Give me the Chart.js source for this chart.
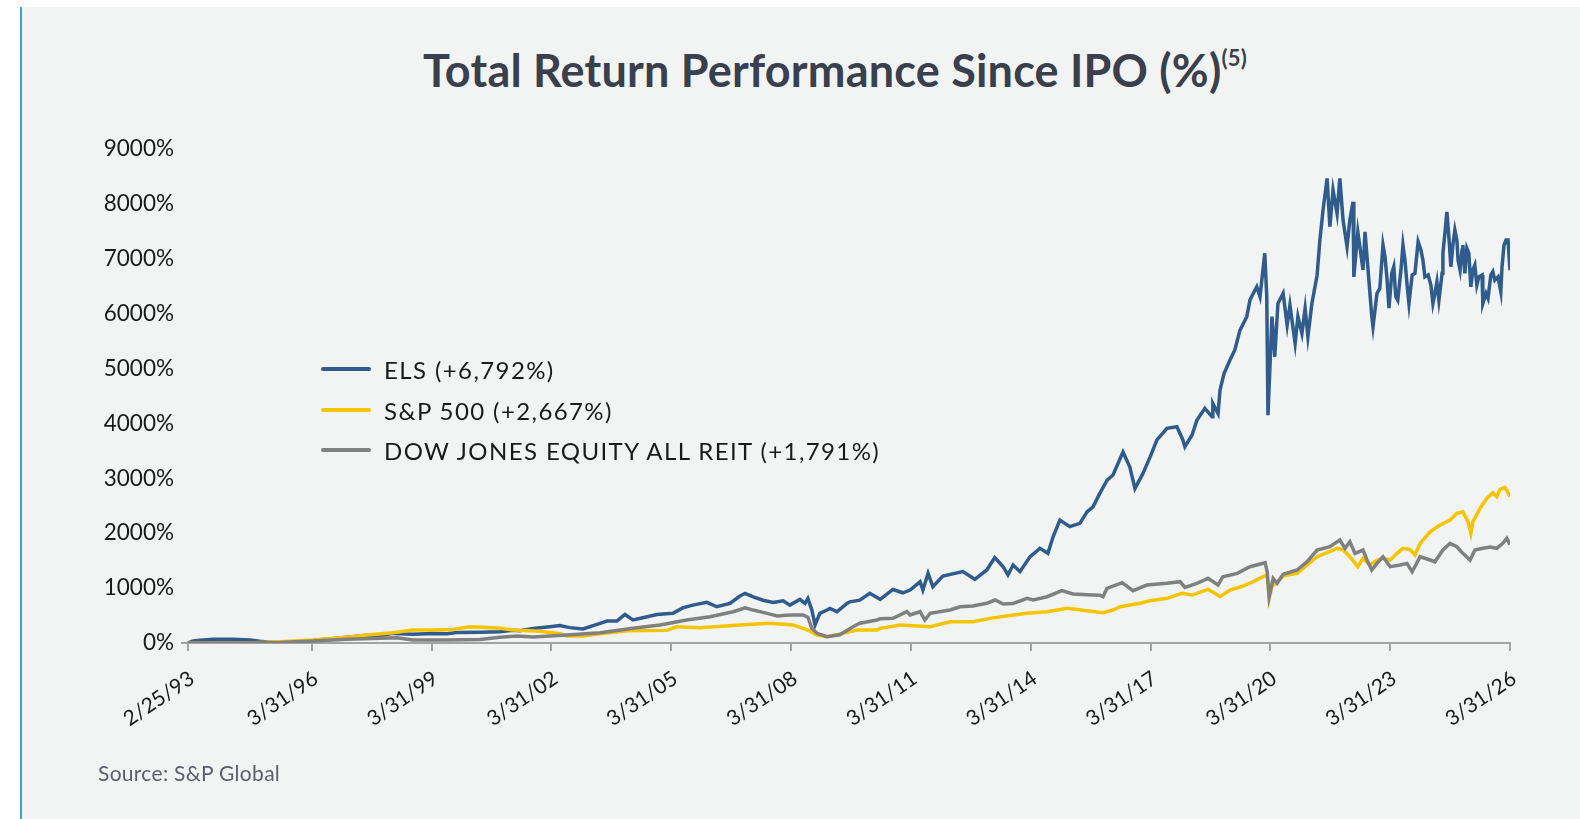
<!DOCTYPE html>
<html>
<head>
<meta charset="utf-8">
<script src="https://cdn.jsdelivr.net/npm/chart.js@4.4.1/dist/chart.umd.min.js"></script>
<style>
  html, body { margin: 0; padding: 0; }
  body { width: 1580px; height: 819px; position: relative; overflow: hidden; background: #ffffff; font-family: Lato, "Open Sans", sans-serif; }
  #panel { position: absolute; left: 20px; top: 7px; right: 0; bottom: 0; background: #f2f4f3; border-left: 2px solid #2aa7e0; }
  #title { position: absolute; left: 0; top: 43px; width: 1670px; text-align: center; font-size: 45px; font-weight: 700; color: #3a3f4e; letter-spacing: 0.2px; }
  #title sup { font-size: 22px; font-weight: 700; vertical-align: 0; position: relative; top: -21px; }
  #chartWrap { position: absolute; left: 0; top: 0; width: 1580px; height: 819px; }
  #source { position: absolute; left: 98px; top: 760px; font-size: 21px; letter-spacing: 0.3px; color: #5a5f6b; }
  .leg { position: absolute; left: 321px; height: 30px; display: flex; align-items: center; font-size: 24px; letter-spacing: 1.4px; color: #1a1a1a; }
  .leg .sw { width: 50px; height: 4px; border-radius: 2px; margin-right: 13px; }
</style>
</head>
<body>
<div id="panel"></div>
<div id="title">Total Return Performance Since IPO (%)<sup>(5)</sup></div>
<div id="chartWrap"><canvas id="c" width="1580" height="819"></canvas></div>
<div id="legend"></div>
<div id="source">Source: S&amp;P Global</div>
<script>
// ---- tick labels (dates) ----
const tickYears = [1993.15, 1996.25, 1999.25, 2002.25, 2005.25, 2008.25, 2011.25, 2014.25, 2017.25, 2020.25, 2023.25, 2026.25];
const tickLabels = ['2/25/93', '3/31/96', '3/31/99', '3/31/02', '3/31/05', '3/31/08', '3/31/11', '3/31/14', '3/31/17', '3/31/20', '3/31/23', '3/31/26'];

// ---- series names ----
const seriesNames = ['ELS (+6,792%)', 'S&P 500 (+2,667%)', 'DOW JONES EQUITY ALL REIT (+1,791%)'];

// ---- ELS (decimal year, total return %) ----
const elsYears = [1993.15,1993.28,1993.45,1993.78,1994.28,1994.70,1994.95,1995.20,1995.70,1996.28,1996.88,1997.63,1997.96,1998.28,1998.78,1999.28,1999.63,1999.88,2000.46,2000.96,2001.29,2001.46,2001.79,2002.21,2002.46,2002.71,2003.04,2003.39,2003.64,2003.89,2004.09,2004.29,2004.54,2004.89,2005.29,2005.54,2005.79,2006.14,2006.39,2006.72,2006.97,2007.10,2007.30,2007.55,2007.80,2008.05,2008.22,2008.47,2008.60,2008.67,2008.77,2008.85,2008.97,2009.15,2009.22,2009.40,2009.65,2009.72,2009.97,2010.22,2010.48,2010.80,2011.05,2011.23,2011.48,2011.55,2011.68,2011.80,2012.05,2012.55,2012.85,2013.15,2013.35,2013.56,2013.68,2013.81,2013.98,2014.23,2014.48,2014.68,2014.81,2014.98,2015.23,2015.48,2015.66,2015.81,2015.98,2016.16,2016.31,2016.56,2016.73,2016.86,2017.06,2017.24,2017.41,2017.66,2017.91,2018.06,2018.11,2018.29,2018.41,2018.61,2018.79,2018.81,2018.94,2018.99,2019.09,2019.24,2019.36,2019.49,2019.66,2019.74,2019.91,2019.99,2020.11,2020.16,2020.19,2020.29,2020.36,2020.44,2020.57,2020.67,2020.74,2020.87,2020.94,2021.04,2021.12,2021.19,2021.29,2021.42,2021.49,2021.57,2021.67,2021.74,2021.82,2021.92,2021.99,2022.07,2022.17,2022.24,2022.32,2022.34,2022.44,2022.57,2022.62,2022.69,2022.79,2022.82,2022.92,2022.99,2023.07,2023.12,2023.17,2023.22,2023.29,2023.34,2023.39,2023.44,2023.52,2023.57,2023.62,2023.67,2023.72,2023.80,2023.87,2023.95,2024.02,2024.07,2024.12,2024.20,2024.27,2024.32,2024.37,2024.42,2024.47,2024.55,2024.57,2024.62,2024.67,2024.72,2024.77,2024.82,2024.87,2024.92,2024.95,2025.00,2025.05,2025.07,2025.12,2025.17,2025.22,2025.27,2025.32,2025.37,2025.42,2025.47,2025.55,2025.57,2025.65,2025.70,2025.77,2025.82,2025.87,2025.95,2026.02,2026.05,2026.10,2026.15,2026.20,2026.25];
const elsValues = [0,36,50,70,70,55,30,15,20,45,85,140,130,175,160,175,170,190,195,205,230,225,265,297,320,280,255,340,400,400,520,420,460,520,540,640,690,740,660,720,855,905,840,780,740,770,690,795,720,810,600,330,540,600,630,570,720,750,780,905,795,975,915,965,1115,965,1270,1025,1220,1300,1160,1330,1555,1390,1240,1420,1300,1570,1725,1635,1935,2240,2120,2180,2390,2480,2725,2965,3060,3480,3210,2815,3090,3390,3700,3910,3940,3700,3575,3790,4060,4275,4120,4365,4180,4610,4910,5155,5340,5700,5945,6250,6490,6310,7100,6310,4150,5945,5215,6185,6370,5790,6155,5460,5945,5640,6095,5580,6185,6700,7340,7890,8465,7585,8250,7825,8465,7705,7220,7705,8040,6670,7490,6795,7490,6855,5945,5760,6370,6460,7250,7040,6640,6100,6735,6855,6310,6245,6795,7250,6975,6550,6185,6705,6735,7310,7160,6975,6670,6705,6520,6185,6370,6580,6245,6735,7100,7465,7855,7400,6855,7250,7525,7340,6975,6795,7160,7250,6735,7190,7100,6490,6795,6885,6520,6670,6705,6185,6370,6280,6705,6765,6610,6670,6400,6855,7250,7340,7340,6792];

// ---- S&P 500 ----
const spYears = [1993.15,1993.78,1994.63,1995.45,1996.28,1997.13,1997.63,1998.28,1998.78,1999.28,1999.79,2000.21,2000.54,2000.96,2001.29,2001.96,2002.46,2002.64,2003.04,2003.47,2004.14,2005.14,2005.39,2005.97,2006.97,2007.72,2008.30,2008.67,2008.90,2009.15,2009.55,2009.90,2010.40,2010.48,2010.98,2011.40,2011.73,2012.23,2012.80,2013.23,2013.81,2014.16,2014.66,2015.16,2015.66,2016.06,2016.31,2016.49,2016.74,2016.99,2017.24,2017.66,2018.04,2018.29,2018.69,2018.86,2018.99,2019.24,2019.57,2019.82,2020.07,2020.17,2020.22,2020.29,2020.42,2020.57,2020.92,2021.17,2021.42,2021.67,2021.92,2022.07,2022.24,2022.44,2022.57,2022.74,2022.92,2023.07,2023.25,2023.42,2023.57,2023.75,2023.87,2024.00,2024.25,2024.50,2024.75,2024.92,2025.07,2025.20,2025.27,2025.32,2025.50,2025.67,2025.82,2025.92,2026.00,2026.12,2026.17,2026.25];
const spValues = [0,0,0,24,55,103,146,188,237,237,245,297,285,267,237,213,170,127,127,170,224,230,297,279,328,358,330,237,146,115,176,237,237,267,328,310,297,388,388,449,510,540,570,631,589,552,600,661,692,723,771,814,905,874,978,905,843,965,1038,1117,1208,1239,814,1026,1117,1220,1269,1421,1572,1645,1725,1700,1572,1390,1542,1421,1512,1542,1512,1633,1725,1700,1603,1816,2027,2149,2240,2362,2392,2209,1998,2209,2453,2635,2738,2665,2799,2836,2780,2667];

// ---- Dow Jones Equity All REIT ----
const djYears = [1993.15,1994.63,1995.45,1996.28,1997.13,1997.96,1998.38,1998.78,1999.63,2000.46,2000.96,2001.39,2001.79,2002.64,2003.47,2004.29,2004.97,2005.64,2006.22,2006.80,2007.10,2007.30,2007.65,2007.90,2008.22,2008.55,2008.67,2008.77,2008.90,2009.15,2009.47,2009.80,2009.97,2010.40,2010.48,2010.80,2011.15,2011.23,2011.48,2011.60,2011.73,2012.23,2012.48,2012.80,2013.15,2013.36,2013.56,2013.81,2014.16,2014.31,2014.66,2015.03,2015.31,2015.66,2015.98,2016.06,2016.16,2016.54,2016.81,2017.16,2017.66,2017.99,2018.11,2018.41,2018.69,2018.94,2019.06,2019.42,2019.74,2020.12,2020.17,2020.22,2020.32,2020.42,2020.57,2020.92,2021.17,2021.42,2021.74,2021.99,2022.12,2022.24,2022.37,2022.57,2022.67,2022.79,2022.92,2023.07,2023.25,2023.50,2023.67,2023.80,2024.00,2024.25,2024.37,2024.57,2024.75,2024.92,2025.07,2025.25,2025.37,2025.57,2025.75,2025.92,2026.07,2026.17,2026.25];
const djValues = [0,0,10,36,67,85,95,55,55,65,103,127,110,146,188,267,328,419,479,570,640,600,540,491,510,510,470,267,176,115,150,297,360,419,440,450,570,510,570,419,540,601,661,674,723,783,710,720,814,783,843,953,892,880,870,843,996,1099,953,1056,1087,1117,1014,1087,1178,1056,1208,1269,1390,1463,1300,843,1178,1087,1251,1330,1481,1694,1754,1876,1725,1845,1633,1694,1512,1330,1451,1572,1390,1421,1450,1299,1572,1512,1480,1694,1816,1754,1633,1512,1694,1725,1750,1725,1816,1907,1791];

const yTicks = [0, 1000, 2000, 3000, 4000, 5000, 6000, 7000, 8000, 9000];

const colors = ['#2f5b8d', '#f5c400', '#808080'];

function pts(xs, ys) { return xs.map((x, i) => ({ x: x, y: ys[i] })); }

// legend (HTML)
const legendEl = document.getElementById('legend');
const legTops = [354, 395, 435];
seriesNames.forEach((n, i) => {
  const d = document.createElement('div');
  d.className = 'leg';
  d.style.top = legTops[i] + 'px';
  d.innerHTML = '<span class="sw" style="background:' + colors[i] + '"></span><span></span>';
  d.lastChild.textContent = n;
  legendEl.appendChild(d);
});

const yFont = { family: 'Lato, "Open Sans", sans-serif', size: 22.5 };
const xFont = { family: 'Lato, "Open Sans", sans-serif', size: 21 };

new Chart(document.getElementById('c'), {
  type: 'line',
  data: {
    datasets: [
      { label: seriesNames[0], data: pts(elsYears, elsValues), borderColor: colors[0], borderWidth: 3.5, pointRadius: 0, order: 3, tension: 0 },
      { label: seriesNames[1], data: pts(spYears, spValues), borderColor: colors[1], borderWidth: 3.5, pointRadius: 0, order: 2, tension: 0 },
      { label: seriesNames[2], data: pts(djYears, djValues), borderColor: colors[2], borderWidth: 3.5, pointRadius: 0, order: 1, tension: 0 }
    ]
  },
  options: {
    responsive: false,
    animation: false,
    layout: { padding: { left: 0, top: 149, right: 70, bottom: 56 } },
    plugins: { legend: { display: false }, tooltip: { enabled: false } },
    scales: {
      x: {
        type: 'linear',
        min: 1993.0,
        max: 2026.25,
        afterBuildTicks: (axis) => { axis.ticks = tickYears.map(v => ({ value: v })); },
        afterFit: (s) => { s.height = 120; },
        ticks: {
          autoSkip: false,
          minRotation: 34,
          maxRotation: 34,
          padding: 15,
          labelOffset: 4,
          color: '#1a1a1a',
          font: xFont,
          callback: (v, i) => tickLabels[i]
        },
        grid: { drawOnChartArea: false, drawTicks: true, tickLength: 8, color: '#a3a3a3', lineWidth: 2 },
        border: { display: true, color: '#a3a3a3', width: 2 }
      },
      y: {
        min: 0,
        max: 9000,
        afterBuildTicks: (axis) => { axis.ticks = yTicks.map(v => ({ value: v })); },
        afterFit: (s) => { s.width = 182; },
        ticks: {
          padding: 8,
          color: '#1a1a1a',
          font: yFont,
          callback: (v) => v + '%'
        },
        grid: { display: false, drawTicks: false },
        border: { display: false }
      }
    }
  }
});
</script>
</body>
</html>
